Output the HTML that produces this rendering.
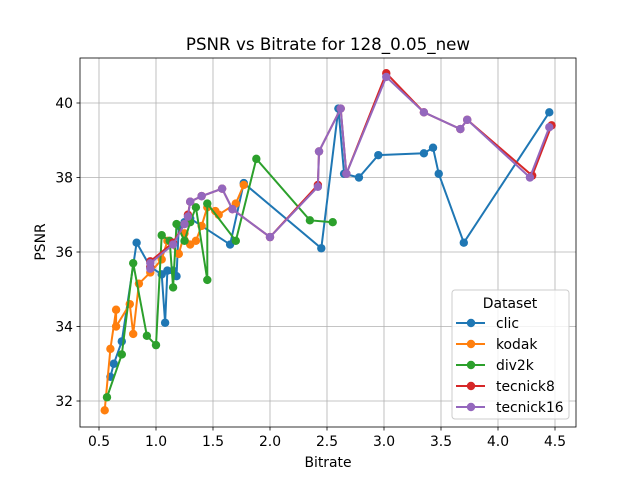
<!DOCTYPE html>
<html><head><meta charset="utf-8"><style>
body{margin:0;background:#fff;font-family:"Liberation Sans","DejaVu Sans",sans-serif}
svg text{font-family:"DejaVu Sans","Liberation Sans",sans-serif}
</style></head><body>
<svg id="chart" width="640" height="480" xmlns="http://www.w3.org/2000/svg"></svg>
<script>
const xTicks=[0.5,1.0,1.5,2.0,2.5,3.0,3.5,4.0,4.5];
const yTicks=[32,34,36,38,40];
const seriesNames=["clic","kodak","div2k","tecnick8","tecnick16"];
const seriesColors=["#1f77b4","#ff7f0e","#2ca02c","#d62728","#9467bd"];
const clicX=[0.6,0.63,0.7,0.83,0.95,1.05,1.08,1.1,1.15,1.18,1.2,1.25,1.3,1.65,1.77,2.45,2.6,2.65,2.78,2.95,3.35,3.43,3.48,3.7,4.45];
const clicY=[32.65,33.0,33.6,36.25,35.6,35.4,34.1,35.5,35.5,35.35,36.7,36.8,36.9,36.2,37.85,36.1,39.85,38.1,38.0,38.6,38.65,38.8,38.1,36.25,39.75];
const kodakX=[0.55,0.6,0.65,0.65,0.77,0.8,0.85,0.95,1.05,1.1,1.2,1.25,1.3,1.35,1.4,1.45,1.52,1.55,1.7,1.77];
const kodakY=[31.75,33.4,34.45,34.0,34.6,33.8,35.15,35.45,35.8,36.3,35.95,36.5,36.2,36.3,36.7,37.2,37.1,37.0,37.3,37.8];
const div2kX=[0.57,0.7,0.8,0.92,1.0,1.05,1.12,1.15,1.18,1.25,1.3,1.35,1.45,1.45,1.7,1.88,2.35,2.55];
const div2kY=[32.1,33.25,35.7,33.75,33.5,36.45,36.3,35.05,36.75,36.3,36.8,37.2,35.25,37.3,36.3,38.5,36.85,36.8];
const tec8X=[0.95,0.95,1.15,1.25,1.28,1.3,1.4,1.58,1.67,2.0,2.42,2.43,2.62,2.67,3.02,3.35,3.67,3.73,4.3,4.47];
const tec8Y=[35.6,35.75,36.25,36.75,37.0,37.35,37.5,37.7,37.15,36.4,37.8,38.7,39.85,38.1,40.8,39.75,39.3,39.55,38.05,39.4];
const tec16X=[0.95,0.95,1.15,1.25,1.28,1.3,1.4,1.58,1.67,2.0,2.42,2.43,2.62,2.67,3.02,3.35,3.67,3.73,4.28,4.45];
const tec16Y=[35.55,35.7,36.2,36.75,36.95,37.35,37.5,37.7,37.15,36.4,37.75,38.7,39.85,38.1,40.7,39.75,39.3,39.55,38.0,39.35];
const allX=[clicX,kodakX,div2kX,tec8X,tec16X], allY=[clicY,kodakY,div2kY,tec8Y,tec16Y];
const L=80,R=576,T=58,B=427;
const sx=v=>99+(v-0.5)*114;
const sy=v=>401-(v-32)*37.25;
const svg=document.getElementById('chart');
const NS="http://www.w3.org/2000/svg";
function mk(tag,attrs,parent){const e=document.createElementNS(NS,tag);for(const k in attrs)e.setAttribute(k,attrs[k]);(parent||svg).appendChild(e);return e;}
const grid=mk('g',{});


xTicks.forEach(t=>{mk('line',{x1:sx(t),x2:sx(t),y1:T,y2:B,stroke:'#b0b0b0','stroke-width':0.8},grid);
 mk('line',{x1:sx(t),x2:sx(t),y1:B,y2:B+3.5,stroke:'#000','stroke-width':0.8});
 const tx=mk('text',{x:sx(t),y:B+19,'text-anchor':'middle','font-size':13.9});tx.textContent=t.toFixed(1);
 
 });
yTicks.forEach(t=>{mk('line',{x1:L,x2:R,y1:sy(t),y2:sy(t),stroke:'#b0b0b0','stroke-width':0.8},grid);
 mk('line',{x1:L-3.5,x2:L,y1:sy(t),y2:sy(t),stroke:'#000','stroke-width':0.8});
 const tx=mk('text',{x:L-7,y:sy(t)+5,'text-anchor':'end','font-size':13.9});tx.textContent=t;
 
 });
allX.forEach((xs,i)=>{
 const g=mk('g',{});
 
 
 mk('polyline',{points:xs.map((x,j)=>sx(x)+','+sy(allY[i][j])).join(' '),fill:'none',stroke:seriesColors[i],'stroke-width':2},g);
 xs.forEach((x,j)=>{const c=mk('circle',{cx:sx(x),cy:sy(allY[i][j]),r:4.2,fill:seriesColors[i]},g);
  
  });
});
mk('rect',{x:L,y:T,width:R-L,height:B-T,fill:'none',stroke:'#000','stroke-width':0.8});
let t=mk('text',{x:328,y:50,'text-anchor':'middle','font-size':16.7});t.textContent='PSNR vs Bitrate for 128_0.05_new';

t=mk('text',{x:328,y:467,'text-anchor':'middle','font-size':13.9});t.textContent='Bitrate';

t=mk('text',{x:45,y:242,'text-anchor':'middle','font-size':13.9,transform:'rotate(-90 45 242)'});t.textContent='PSNR';

const lg=mk('g',{});


mk('rect',{x:452,y:290,width:117,height:129,rx:3,fill:'#fff','fill-opacity':0.8,stroke:'#ccc'},lg);
t=mk('text',{x:510,y:308,'text-anchor':'middle','font-size':13.9},lg);t.textContent='Dataset';
seriesNames.forEach((n,i)=>{const y=323+i*21;
 mk('line',{x1:456,x2:485,y1:y,y2:y,stroke:seriesColors[i],'stroke-width':2},lg);
 mk('circle',{cx:471,cy:y,r:4.2,fill:seriesColors[i]},lg);
 const e=mk('text',{x:496,y:y+5,'font-size':13.9},lg);e.textContent=n;
 
 });
</script>
</body></html>
